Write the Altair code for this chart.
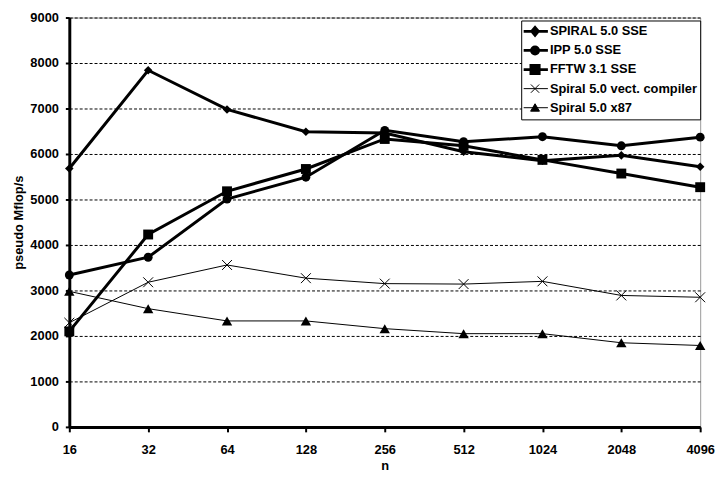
import altair as alt
import pandas as pd

n_labels = ["16", "32", "64", "128", "256", "512", "1024", "2048", "4096"]
series_names = ["SPIRAL 5.0 SSE", "IPP 5.0 SSE", "FFTW 3.1 SSE",
                "Spiral 5.0 vect. compiler", "Spiral 5.0 x87"]
spiral_sse = [5680, 7840, 6980, 6490, 6460, 6050, 5850, 5970, 5720]
ipp_sse = [3340, 3730, 5010, 5490, 6520, 6270, 6380, 6180, 6370]
fftw_sse = [2100, 4230, 5180, 5670, 6330, 6180, 5870, 5570, 5270]
spiral_vect = [2290, 3180, 3560, 3270, 3150, 3140, 3200, 2890, 2850]
spiral_x87 = [2980, 2600, 2330, 2330, 2160, 2050, 2050, 1850, 1790]
y_ticks = [0, 1000, 2000, 3000, 4000, 5000, 6000, 7000, 8000, 9000]

all_values = [spiral_sse, ipp_sse, fftw_sse, spiral_vect, spiral_x87]
rows = []
for name, vals in zip(series_names, all_values):
    for n, v in zip(n_labels, vals):
        rows.append({"n": n, "series": name, "value": v})
df = pd.DataFrame(rows)

FONT = "Liberation Sans"

x_enc = alt.X(
    "n:O", sort=n_labels, scale=alt.Scale(padding=0),
    axis=alt.Axis(title="n", labelAngle=0, grid=False, domainColor="black",
                  domainWidth=3, tickColor="black", tickWidth=2, tickSize=5,
                  labelPadding=12, titlePadding=3, labelFont=FONT,
                  labelFontSize=13, labelFontWeight="bold", labelColor="black",
                  titleFont=FONT, titleFontSize=13, titleFontWeight="bold",
                  titleColor="black"))
y_enc = alt.Y(
    "value:Q", scale=alt.Scale(domain=[0, 9000], nice=False),
    axis=alt.Axis(title="pseudo Mflop/s", values=y_ticks, format="d",
                  grid=True, gridColor="black", gridDash=[3, 2], gridWidth=1,
                  domainColor="black", domainWidth=3, tickColor="black",
                  tickWidth=2, tickSize=4, labelPadding=7, titlePadding=4,
                  labelFont=FONT, labelFontSize=13, labelFontWeight="bold",
                  labelColor="black", titleFont=FONT, titleFontSize=13,
                  titleFontWeight="bold", titleColor="black"))

# (shape, size, line width, filled)
styles = {
    "Spiral 5.0 x87": ("triangle-up", 110, 1, True),
    "Spiral 5.0 vect. compiler": ("M-1,-1L1,1M-1,1L1,-1", 100, 1, False),
    "FFTW 3.1 SSE": ("square", 100, 3, True),
    "IPP 5.0 SSE": ("circle", 81, 3, True),
    "SPIRAL 5.0 SSE": ("diamond", 75, 3, True),
}

base = alt.Chart(df)
layers = []
for name in ["Spiral 5.0 x87", "Spiral 5.0 vect. compiler", "FFTW 3.1 SSE",
             "IPP 5.0 SSE", "SPIRAL 5.0 SSE"]:
    shape, size, lw, filled = styles[name]
    sub = base.transform_filter(alt.datum.series == name)
    layers.append(sub.mark_line(color="black", strokeWidth=lw).encode(x=x_enc, y=y_enc))
    layers.append(sub.mark_point(shape=shape, size=size, filled=filled,
                                 color="black", opacity=1,
                                 strokeWidth=1).encode(x=x_enc, y=y_enc))

# legend symbols: unit = 10px (size 400); line spans 26px
legend_paths = [
    "M-1.3,0L1.3,0M0,-0.4L0.34,0L0,0.4L-0.34,0Z",
    "M-1.3,0L1.3,0M-0.36,0A0.36,0.36,0,1,0,0.36,0A0.36,0.36,0,1,0,-0.36,0Z",
    "M-1.3,0L1.3,0M-0.42,-0.42L0.42,-0.42L0.42,0.42L-0.42,0.42Z",
    "M-1.3,0L1.3,0M-0.42,-0.42L0.42,0.42M-0.42,0.42L0.42,-0.42",
    "M-1.3,0L1.3,0M0,-0.4L0.45,0.35L-0.45,0.35Z",
]
legend_fills = ["black", "black", "black", "transparent", "black"]
legend_strokes = ["black"] * 5
legend_widths = [2.8, 2.8, 2.8, 1, 1]

leg = alt.Legend(title=None, orient="none", legendX=457, legendY=3,
                 symbolSize=400, clipHeight=17, rowPadding=2.3, padding=2.5,
                 labelOffset=3.5, labelFont=FONT, labelFontSize=13,
                 labelFontWeight="bold", labelColor="black", labelLimit=300,
                 strokeColor="black", fillColor="white")

legend_layer = base.transform_filter("false").mark_point(
    opacity=1, size=400).encode(
    x=x_enc, y=y_enc,
    shape=alt.Shape("series:N", scale=alt.Scale(domain=series_names, range=legend_paths), legend=leg),
    fill=alt.Fill("series:N", scale=alt.Scale(domain=series_names, range=legend_fills), legend=leg),
    stroke=alt.Stroke("series:N", scale=alt.Scale(domain=series_names, range=legend_strokes), legend=leg),
    strokeWidth=alt.StrokeWidth("series:N", scale=alt.Scale(type="ordinal", domain=series_names, range=legend_widths), legend=leg),
)

chart = alt.layer(*layers, legend_layer).properties(
    width=638, height=414,
    padding={"left": 62, "top": 7, "right": 16, "bottom": 46},
    autosize=alt.AutoSizeParams(type="none"),
    background="white",
).configure_view(stroke="#999999", strokeWidth=1)

chart.save("out.html", embed_options={"renderer": "svg", "actions": False})
